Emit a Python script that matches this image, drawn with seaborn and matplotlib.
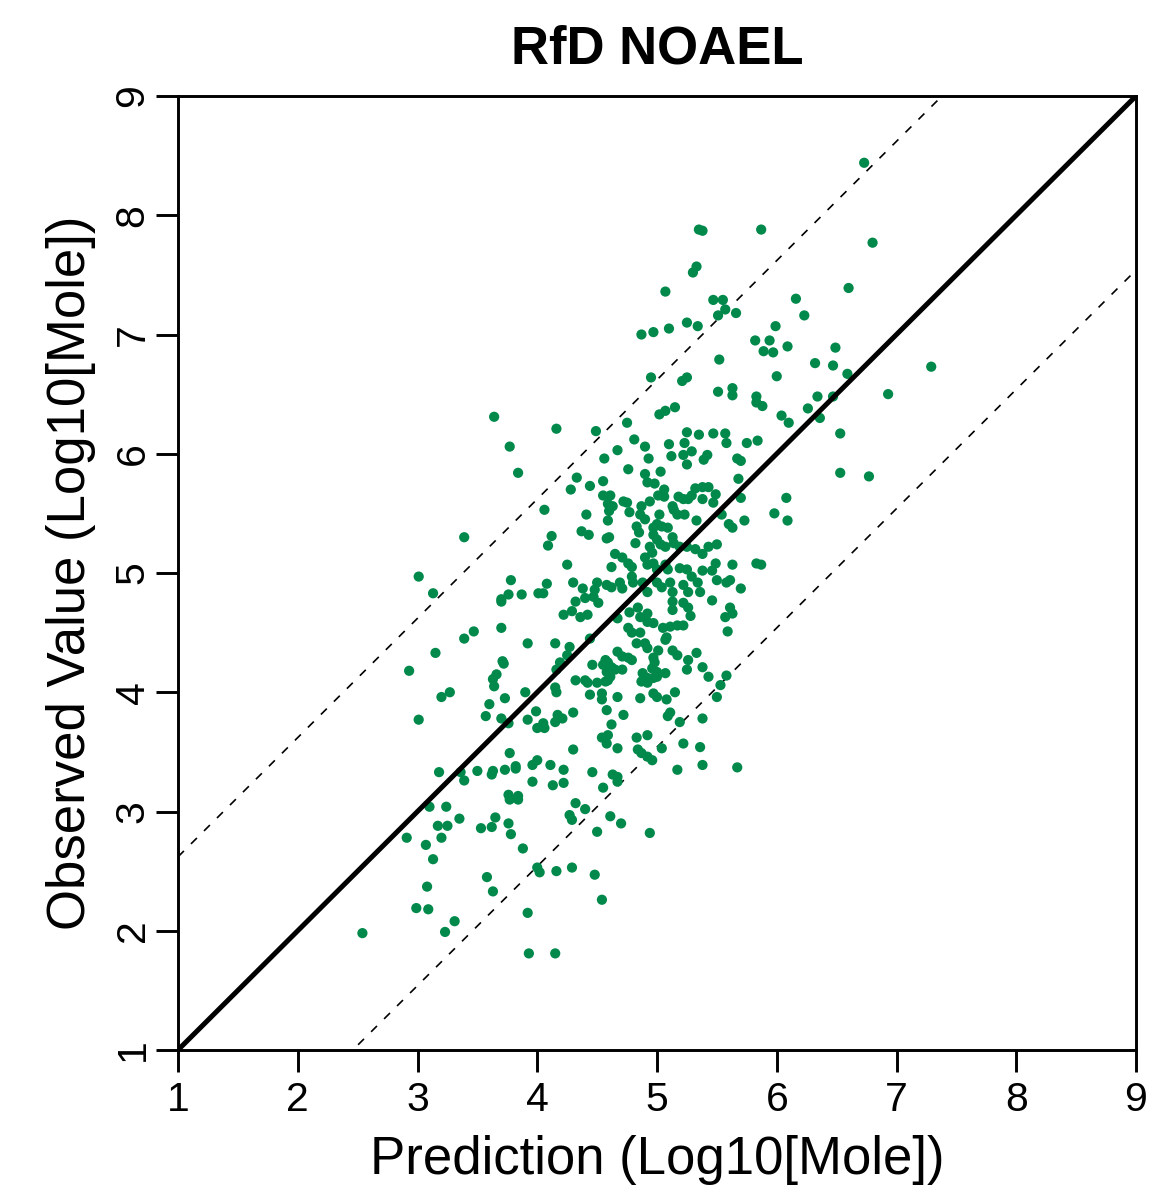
import matplotlib
matplotlib.use("Agg")
import matplotlib.pyplot as plt
import seaborn as sns
import numpy as np
import pandas as pd

# ---------------- data ----------------
title = "RfD NOAEL"
x_label = "Prediction (Log10[Mole])"
y_label = "Observed Value (Log10[Mole])"
axis_ticks = [1, 2, 3, 4, 5, 6, 7, 8, 9]
upper_offset = 1.62
lower_offset = -1.46

prediction = [
    6.73, 5.35, 5.38, 5.87, 6.80, 5.33, 5.30, 5.07, 6.60, 5.47, 5.55, 6.16, 5.57, 5.51, 5.66, 6.23,
    5.25, 5.34, 5.99, 5.10, 4.97, 4.87, 5.82, 5.94, 5.89, 5.97, 6.09, 6.49, 5.52, 6.32, 6.47, 7.29,
    6.59, 4.95, 5.21, 5.25, 6.00, 5.51, 5.63, 5.63, 5.83, 5.88, 5.83, 6.34, 6.47, 6.93, 6.26, 5.15,
    5.07, 5.02, 6.04, 6.36,
    3.64, 3.77, 3.84, 3.39, 3.01, 3.13, 3.78, 3.76, 3.87, 4.01, 3.70,
    4.16, 4.75, 4.49, 4.67, 4.81, 4.90, 4.93, 5.10, 5.12, 5.25, 5.35, 5.47, 5.57, 5.58, 5.23, 5.29,
    5.22, 5.25, 5.42, 5.39, 5.67, 4.56, 4.76, 4.33, 4.44, 4.55, 4.28, 4.90, 5.03, 4.92, 4.98, 5.06,
    5.32, 5.38, 5.43, 5.29, 5.26, 5.68, 4.55, 4.61, 4.59, 4.63, 4.72, 4.75, 4.87, 4.94, 5.01, 5.06,
    5.18, 5.22, 5.38, 5.49, 5.47, 4.06, 4.41, 4.60, 4.77, 4.86, 4.90, 5.02, 5.13, 5.14, 5.17, 5.23,
    5.54, 4.59, 4.83, 4.85, 4.97, 5.04, 5.09, 5.00, 5.33, 5.60, 5.63, 4.37, 4.43, 4.60, 4.58, 4.12,
    4.09, 4.97, 5.00, 5.03, 5.07, 5.13, 5.14, 4.82, 4.94, 4.96, 5.19, 5.25, 5.32, 5.43, 5.50, 5.38,
    4.65, 4.71, 4.76, 4.79, 4.62, 4.25, 4.90, 4.92, 4.97, 5.00, 5.07, 5.09, 5.19, 5.25, 5.29, 5.38,
    5.46, 5.49, 5.63, 5.50, 5.58, 4.08, 4.30, 4.38, 4.50, 4.48, 4.58, 4.62, 4.69, 4.71, 4.79, 4.80,
    4.88, 4.92, 5.00, 5.04, 5.11, 5.13, 5.22, 5.26, 5.34, 5.36, 5.61, 4.05, 4.40, 4.47,
    6.10, 6.53, 5.75, 5.84, 5.70, 6.53, 6.77, 5.70, 6.08, 5.98, 6.09, 5.73, 5.83, 5.87, 5.70,
    3.70, 3.47, 3.39, 3.70, 3.92, 3.15, 3.71, 3.72, 3.66, 3.63, 3.64, 2.93, 3.27, 3.20, 3.90, 3.73,
    3.60, 3.99, 3.57, 3.70, 3.76, 3.92, 4.00, 3.01, 3.77, 3.18, 3.36, 3.39, 3.50, 3.63, 3.62, 3.73,
    3.82, 3.82, 3.96, 4.00, 3.96, 3.76, 3.84,
    4.32, 4.51, 4.22, 4.29, 4.36, 4.42, 4.77, 4.84, 4.86, 4.92, 4.92, 4.97, 4.67, 5.13, 5.22, 5.13,
    5.26, 5.28, 5.46, 5.61, 5.57, 5.63, 5.59, 4.76, 4.79, 4.86, 5.05, 5.11, 5.17, 5.22, 5.08, 5.07,
    4.83, 4.90, 4.92, 4.15, 4.27, 4.25, 4.44, 4.67, 4.71, 4.76, 4.79, 4.57, 4.59, 4.55, 4.62, 4.58,
    4.65, 4.71, 4.61, 4.57, 4.59, 4.46, 4.19, 4.16, 5.01, 4.97, 4.98, 4.96, 5.00, 4.97, 5.00, 5.13,
    5.17, 5.33, 5.26, 5.38, 5.43, 5.25, 5.07, 4.88, 4.92, 4.87, 4.92, 4.32, 4.40, 4.42, 4.50, 4.15,
    4.16, 4.44, 4.54, 4.54, 4.67, 4.86, 4.97, 5.00, 5.08, 5.15, 5.58, 5.50, 5.53, 4.58, 4.30, 4.17,
    4.21, 4.15, 4.72, 5.11, 5.09, 4.05, 4.06, 4.62, 5.19, 5.38, 4.54, 4.59, 4.58, 4.83, 4.92, 4.67,
    4.30, 4.84, 4.87, 4.92, 4.96, 5.04, 5.22, 5.36, 4.11, 4.22, 4.46, 4.63, 4.67, 5.17, 5.38, 5.67,
    4.22, 4.13, 4.55, 4.67,
    3.10, 3.24, 2.91, 3.17, 3.25, 3.35, 3.07, 3.20, 3.13, 3.08, 2.99, 3.09, 2.54, 3.31, 3.23, 3.53,
    3.62, 3.65, 3.76, 3.78, 3.88, 3.58, 3.63, 3.92, 3.93, 4.15, 4.00, 4.02, 4.16, 4.29, 4.48, 4.54,
    4.32, 4.27, 4.29, 4.40, 4.61, 4.70, 4.50, 3.77, 3.84, 4.94,
]

observed = [
    8.44, 7.88, 7.87, 7.88, 7.77, 7.57, 7.52, 7.36, 7.39, 7.29, 7.29, 7.30, 7.21, 7.16, 7.18, 7.16,
    7.10, 7.07, 7.07, 7.05, 7.02, 7.00, 6.95, 6.95, 6.86, 6.85, 6.90, 6.89, 6.79, 6.76, 6.74, 6.73,
    6.67, 6.64, 6.61, 6.64, 6.65, 6.52, 6.55, 6.49, 6.48, 6.40, 6.43, 6.48, 6.48, 6.50, 6.38, 6.39,
    6.36, 6.33, 6.32, 6.30,
    6.31, 6.06, 5.84, 5.30, 4.97, 4.83, 4.94, 4.82, 4.82, 4.83, 4.78,
    6.21, 6.26, 6.19, 6.03, 6.12, 6.06, 5.96, 6.08, 5.98, 6.18, 6.16, 6.17, 6.17, 6.09, 6.09, 6.02,
    5.99, 5.91, 5.99, 5.95, 5.96, 5.96, 5.87, 5.80, 5.73, 5.77, 5.70, 5.83, 5.85, 5.76, 5.75, 5.70,
    5.71, 5.72, 5.72, 5.65, 5.62, 5.79, 5.65, 5.65, 5.58, 5.56, 5.60, 5.59, 5.56, 5.60, 5.65, 5.64,
    5.64, 5.62, 5.62, 5.66, 5.59, 5.53, 5.49, 5.52, 5.51, 5.49, 5.45, 5.49, 5.56, 5.53, 5.49, 5.49,
    5.49, 5.44, 5.39, 5.34, 5.38, 5.39, 5.38, 5.41, 5.44, 5.41, 5.38, 5.35, 5.32, 5.30, 5.29, 5.31,
    5.23, 5.32, 5.28, 5.24, 5.22, 5.30, 5.25, 5.25, 5.22, 5.17, 5.22, 5.22, 5.20, 5.22, 5.24, 5.16,
    5.16, 5.13, 5.08, 5.05, 5.05, 5.07, 5.13, 5.07, 5.08, 5.03, 5.07, 5.03, 5.04, 5.03, 4.97, 5.02,
    5.02, 5.08, 5.07, 4.94, 4.92, 4.91, 4.92, 4.87, 4.92, 4.86, 4.90, 4.88, 4.92, 4.87, 4.97, 4.92,
    4.92, 4.84, 4.92, 4.88, 4.92, 4.84, 4.90, 4.84, 4.92, 4.84, 4.94, 4.83, 4.79, 4.80,
    6.26, 6.17, 6.09, 6.11, 5.94, 5.84, 5.81, 5.63, 5.63, 5.50, 5.44, 5.44, 5.08, 5.07, 4.87,
    4.76, 4.51, 4.45, 4.54, 4.41, 4.33, 4.26, 4.24, 4.15, 4.11, 4.05, 4.18, 4.00, 3.96, 4.00, 3.95,
    3.90, 3.84, 3.80, 3.78, 3.74, 3.77, 3.70, 3.77, 3.49, 3.33, 3.33, 3.26, 3.34, 3.34, 3.31, 3.35,
    3.38, 3.36, 3.39, 3.43, 3.25, 3.14, 3.13,
    4.76, 4.75, 4.65, 4.68, 4.63, 4.65, 4.67, 4.71, 4.63, 4.66, 4.59, 4.58, 4.62, 4.76, 4.75, 4.69,
    4.71, 4.64, 4.77, 4.71, 4.63, 4.66, 4.51, 4.54, 4.50, 4.50, 4.54, 4.55, 4.56, 4.56, 4.46, 4.44,
    4.41, 4.41, 4.37, 4.41, 4.38, 4.31, 4.45, 4.34, 4.30, 4.29, 4.27, 4.27, 4.25, 4.23, 4.21, 4.17,
    4.19, 4.19, 4.13, 4.09, 4.10, 4.23, 4.25, 4.19, 4.35, 4.29, 4.25, 4.20, 4.17, 4.12, 4.13, 4.35,
    4.31, 4.33, 4.27, 4.21, 4.13, 4.19, 4.16, 4.16, 4.12, 4.09, 4.08, 4.10, 4.10, 4.08, 4.08, 4.04,
    4.00, 3.98, 3.99, 3.94, 3.96, 3.95, 3.99, 3.96, 3.94, 4.00, 4.14, 3.96, 4.06, 3.85, 3.83, 3.81,
    3.78, 3.75, 3.81, 3.83, 3.80, 3.74, 3.70, 3.73, 3.75, 3.78, 3.62, 3.64, 3.57, 3.62, 3.64, 3.53,
    3.52, 3.52, 3.49, 3.46, 3.43, 3.53, 3.57, 3.54, 3.39, 3.35, 3.33, 3.31, 3.29, 3.35, 3.39, 3.37,
    3.24, 3.22, 3.20, 3.25,
    3.04, 3.04, 2.78, 2.88, 2.88, 2.94, 2.72, 2.78, 2.60, 2.37, 2.19, 2.18, 1.98, 2.08, 1.99, 2.86,
    2.87, 2.95, 2.90, 2.81, 2.69, 2.45, 2.33, 2.15, 1.81, 1.81, 2.53, 2.49, 2.50, 2.53, 2.47, 2.26,
    3.07, 2.97, 2.93, 3.02, 2.96, 2.90, 2.83, 3.10, 3.10, 2.82,
]

df = pd.DataFrame({"prediction": prediction, "observed": observed})

# ---------------- styling ----------------
sns.set_theme(style="ticks")
plt.rcParams["font.family"] = ["Liberation Sans", "DejaVu Sans"]

W, H = 1153, 1199
fig = plt.figure(figsize=(W / 100, H / 100), dpi=100)
ax_left, ax_right, ax_top, ax_bottom = 178, 1136, 96, 1050
ax = fig.add_axes([ax_left / W, 1 - ax_bottom / H, (ax_right - ax_left) / W, (ax_bottom - ax_top) / H])

green = "#00894A"
sns.scatterplot(data=df, x="prediction", y="observed", color=green, s=54,
                linewidth=0, edgecolor="none", ax=ax, zorder=3)

line_x = np.array([axis_ticks[0], axis_ticks[-1]], dtype=float)
ax.plot(line_x, line_x, color="black", lw=3.6, zorder=4, solid_capstyle="butt")
ax.plot(line_x, line_x + upper_offset, color="black", lw=1.2, linestyle=(0, (5, 6)), zorder=2)
ax.plot(line_x, line_x + lower_offset, color="black", lw=1.2, linestyle=(0, (5, 6)), zorder=2)

ax.set_xlim(axis_ticks[0], axis_ticks[-1])
ax.set_ylim(axis_ticks[0], axis_ticks[-1])
ax.set_xticks(axis_ticks)
ax.set_yticks(axis_ticks)
ax.set_xticklabels([str(t) for t in axis_ticks])
ax.set_yticklabels([str(t) for t in axis_ticks], rotation=90, va="center")

for sp in ax.spines.values():
    sp.set_visible(True)
    sp.set_linewidth(2.1)
    sp.set_color("black")

ax.tick_params(axis="both", which="major", direction="out", length=16, width=2.1,
               color="black", labelsize=29.5, labelcolor="black")
ax.tick_params(axis="x", pad=6)
ax.tick_params(axis="y", pad=3)

ax.set_xlabel(x_label, fontsize=38, color="black")
ax.set_ylabel(y_label, fontsize=38, color="black")
ax.xaxis.set_label_coords(0.5, -0.089)
ax.yaxis.set_label_coords(-0.086, 0.5)

fig.text((ax_left + ax_right) / 2 / W, 1 - 50 / H, title, ha="center", va="center",
         fontsize=38, fontweight="bold", color="black")

fig.savefig("out.png", dpi=100, facecolor="white")
